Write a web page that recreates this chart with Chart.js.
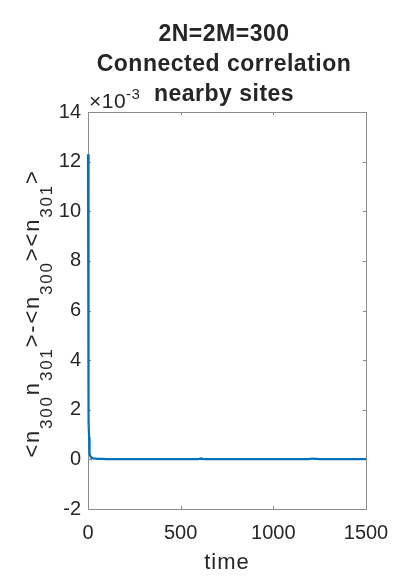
<!DOCTYPE html>
<html>
<head>
<meta charset="utf-8">
<script src="https://cdn.jsdelivr.net/npm/chart.js@4"></script>
<style>
  body { margin: 0; background: #fff; }
  canvas { display: block; }
</style>
</head>
<body>
<canvas id="chart" width="415" height="588"></canvas>
<script>
'use strict'

// data
const timeVals = [0, 1, 2, 3, 4, 5, 6, 7, 8, 10, 12, 15, 20, 25, 30, 40, 50, 75, 100, 150, 200, 300, 400, 500,
    590, 600, 605, 610, 615, 620, 630, 650, 700, 800, 900, 1000, 1100, 1190, 1200, 1210, 1215, 1220, 1230, 1250,
    1300, 1400, 1500];
const corrVals = [0.0123, 0.0092, 0.0064, 0.0042, 0.0026, 0.0015, 0.0009, 0.0006, 0.0004, 0.00022, 0.00014, 0.0001,
    0.00007, 0.00005, 0.00004, 0.00003, 0.00002, 0.00002, 0.00001, 0.00001, 0.00001, 0.00001, 0.00001, 0.00001,
    0.00001, 0.00002, 0.00003, 0.00002, 0.00003, 0.00002, 0.00001, 0.00001, 0.00001, 0.00001, 0.00001, 0.00001,
    0.00001, 0.00001, 0.00002, 0.00003, 0.00003, 0.00002, 0.00002, 0.00001, 0.00001, 0.00001, 0.00001];
const xTicks = [0, 500, 1000, 1500];
const yTicks = [-0.002, 0, 0.002, 0.004, 0.006, 0.008, 0.01, 0.012, 0.014];
const titleLines = ['2N=2M=300', 'Connected correlation', 'nearby sites'];
const xLabel = 'time';
// y label pieces: [text, isSubscript]
const yLabelParts = [['<n', false], ['300', true], ['n', false], ['301', true], ['>-<n', false], ['300', true],
    ['><n', false], ['301', true], ['>', false]];

const textColor = '#262626';
const axisColor = '#8c8c8c';
const fontName = '"Liberation Sans", Arial, sans-serif';

let points = [];
for (let i = 0; i < timeVals.length; i++) {
    points.push({ x: timeVals[i], y: corrVals[i] });
}

const decorPlugin = {
    id: 'decor',
    beforeInit(chart) {
        chart.ctx.letterSpacing = '0.5px';
    },
    beforeDatasetsDraw(chart) {
        const ctx = chart.ctx;
        const a = chart.chartArea;
        const xs = chart.scales.x;
        const ys = chart.scales.y;
        ctx.save();
        ctx.strokeStyle = axisColor;
        ctx.lineWidth = 1;
        ctx.strokeRect(Math.round(a.left) + 0.5, Math.round(a.top) + 0.5,
            Math.round(a.right - a.left), Math.round(a.bottom - a.top));
        ctx.beginPath();
        xTicks.forEach(v => {
            const px = Math.round(xs.getPixelForValue(v)) + 0.5;
            ctx.moveTo(px, a.bottom); ctx.lineTo(px, a.bottom - 3);
            ctx.moveTo(px, a.top); ctx.lineTo(px, a.top + 3);
        });
        yTicks.forEach(v => {
            const py = Math.round(ys.getPixelForValue(v)) + 0.5;
            ctx.moveTo(a.left, py); ctx.lineTo(a.left + 3, py);
            ctx.moveTo(a.right, py); ctx.lineTo(a.right - 3, py);
        });
        ctx.stroke();
        ctx.restore();
    },
    afterDraw(chart) {
        const ctx = chart.ctx;
        const a = chart.chartArea;
        const cx = (a.left + a.right) / 2;
        ctx.save();
        ctx.fillStyle = textColor;
        ctx.textBaseline = 'alphabetic';

        // title
        ctx.font = 'bold 23px ' + fontName;
        ctx.letterSpacing = '0.5px';
        ctx.textAlign = 'center';
        const baselines = [41, 71, 101];
        titleLines.forEach((t, i) => ctx.fillText(t, cx - 3, baselines[i]));

        // x label
        ctx.font = '22px ' + fontName;
        ctx.letterSpacing = '1px';
        ctx.fillText(xLabel, cx, 569);

        // exponent
        ctx.textAlign = 'left';
        ctx.letterSpacing = '0.5px';
        ctx.font = '21px ' + fontName;
        ctx.fillText('\u00d710', a.left + 1, a.top - 4);
        const w10 = ctx.measureText('\u00d710').width;
        ctx.font = '15px ' + fontName;
        ctx.fillText('-3', a.left + 1 + w10, a.top - 13);

        // y label, rotated
        const mainFont = '22px ' + fontName;
        const subFont = '17px ' + fontName;
        ctx.letterSpacing = '1.8px';
        let total = 0;
        yLabelParts.forEach(p => {
            ctx.font = p[1] ? subFont : mainFont;
            total += ctx.measureText(p[0]).width;
        });
        ctx.translate(39, (a.top + a.bottom) / 2 + 3);
        ctx.rotate(-Math.PI / 2);
        let pos = -total / 2;
        yLabelParts.forEach(p => {
            ctx.font = p[1] ? subFont : mainFont;
            ctx.fillText(p[0], pos, p[1] ? 13 : 0);
            pos += ctx.measureText(p[0]).width;
        });
        ctx.restore();
    }
};

const ctx = document.getElementById('chart');
new Chart(ctx, {
    type: 'line',
    data: {
        datasets: [{
            data: points,
            borderColor: '#0072BD',
            backgroundColor: '#0072BD',
            borderWidth: 2.2,
            pointRadius: 0,
            tension: 0,
            clip: 3
        }]
    },
    options: {
        responsive: false,
        animation: false,
        layout: { padding: { top: 112, right: 49, bottom: 0, left: 0 } },
        plugins: {
            legend: { display: false },
            tooltip: { enabled: false }
        },
        scales: {
            x: {
                type: 'linear',
                min: 0,
                max: 1500,
                afterFit: s => { s.height = 79; },
                afterBuildTicks: s => { s.ticks = xTicks.map(v => ({ value: v })); },
                grid: { display: false, drawTicks: false },
                border: { display: false },
                ticks: {
                    color: textColor,
                    font: { family: fontName, size: 20 },
                    padding: 12,
                    maxRotation: 0,
                    callback: v => String(v)
                }
            },
            y: {
                type: 'linear',
                min: -0.002,
                max: 0.014,
                afterFit: s => { s.width = 88; },
                afterBuildTicks: s => { s.ticks = yTicks.map(v => ({ value: v })); },
                grid: { display: false, drawTicks: false },
                border: { display: false },
                ticks: {
                    color: textColor,
                    font: { family: fontName, size: 20 },
                    padding: 7,
                    callback: v => String(Math.round(v * 1000))
                }
            }
        }
    },
    plugins: [decorPlugin]
});
</script>
</body>
</html>
